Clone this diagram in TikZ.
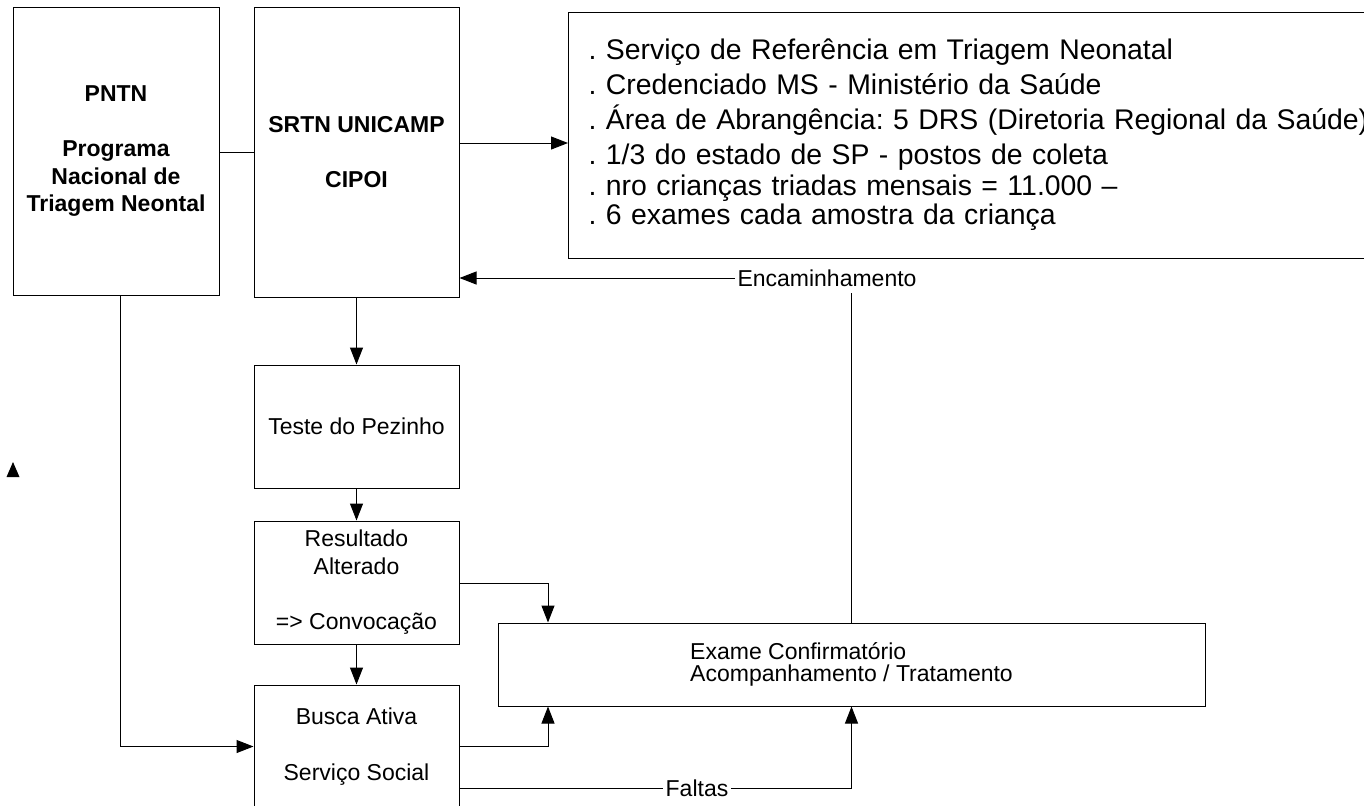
\documentclass[tikz,border=0pt]{standalone}
\usepackage{fontspec}
\setmainfont{Liberation Sans}
\usetikzlibrary{arrows.meta}
\frenchspacing

\begin{document}
\begin{tikzpicture}[x=0.5pt,y=-0.5pt,line width=0.5pt]
        \tikzset{myptr/.style={-{Triangle[length=8.5pt,width=6.5pt]}},
        blk/.style={draw,align=center,inner sep=0pt,font=\fontsize{11.5pt}{13.85pt}\selectfont},
        lbl/.style={inner xsep=1pt,inner ysep=3pt,fill=white,font=\fontsize{11.5pt}{13.85pt}\selectfont}}
        \clip (0,0) rectangle (1364,805);
        \useasboundingbox (0,0) rectangle (1364,805);

        % top row
        \node[blk,font=\bfseries\fontsize{11.5pt}{13.85pt}\selectfont,minimum width=103pt,minimum height=144pt] (pntn) at (116,151) {PNTN\\[13.85pt]Programa\\Nacional de\\Triagem Neontal};
        \node[blk,font=\bfseries\fontsize{11.5pt}{13.85pt}\selectfont,minimum width=102.5pt,minimum height=145pt] (srtn) at (356.5,152) {SRTN UNICAMP\\[13.85pt]CIPOI};
        \node[draw,anchor=west,align=left,text width=440pt,minimum height=123pt,inner xsep=10pt,inner ysep=0pt,font=\fontsize{14.2pt}{17.5pt}\selectfont] (info) at (568,135) {. Serviço de Referência em Triagem Neonatal\\
        . Credenciado MS - Ministério da Saúde\\
        . Área de Abrangência: 5 DRS (Diretoria Regional da Saúde)\\
        . 1/3 do estado de SP - postos de coleta\\[-2pt]
        . nro crianças triadas mensais = 11.000 –\\[-3pt]
        . 6 exames cada amostra da criança};

        % middle column
        \node[blk,minimum width=102.5pt,minimum height=61.5pt] (teste) at (356.5,426.5) {Teste do Pezinho};
        \node[blk,minimum width=102.5pt,minimum height=61.5pt] (res) at (356.5,582.5) {Resultado\\Alterado\\[13.85pt]=> Convocação};
        \node[blk,minimum width=102.5pt,minimum height=61.5pt] (busca) at (356.5,746.5) {Busca Ativa\\[13.85pt]Serviço Social};

        % right box
        \node[blk,align=left,font=\fontsize{11.5pt}{11pt}\selectfont,minimum width=353.5pt,minimum height=41.5pt] (exame) at (851.5,664.5) {Exame Confirmatório\\Acompanhamento / Tratamento};

        % labels
        \node[lbl] (enc) at (827,278) {Encaminhamento};
        \node[lbl] (flt) at (697,788) {Faltas};

        % lines
        \draw (pntn.east |- 0,152) -- (srtn.west |- 0,152);
        \draw[myptr] (srtn.east |- 0,143) -- (info.west |- 0,143);
        \draw[myptr] (srtn) -- (teste);
        \draw[myptr] (teste) -- (res);
        \draw[myptr] (res) -- (busca);
        \draw[myptr] (pntn.south -| 120,0) |- (busca.west);
        % to exame
        \draw[myptr] (res.east |- 0,583) -| (exame.north -| 548,0);
        \draw[myptr] (busca.east) -| (exame.south -| 548,0);
        \draw (busca.east |- 0,788) -- (flt.west);
        \draw[myptr] (flt.east) -| (exame.south);
        % back to srtn
        \draw (exame.north) -- (exame.north |- enc.south);
        \draw[myptr] (enc.west) -- (enc.west -| srtn.east);

        % loose tip
        \fill (13,462) -- (19.5,477) -- (6.5,477) -- cycle;
\end{tikzpicture}
\end{document}
